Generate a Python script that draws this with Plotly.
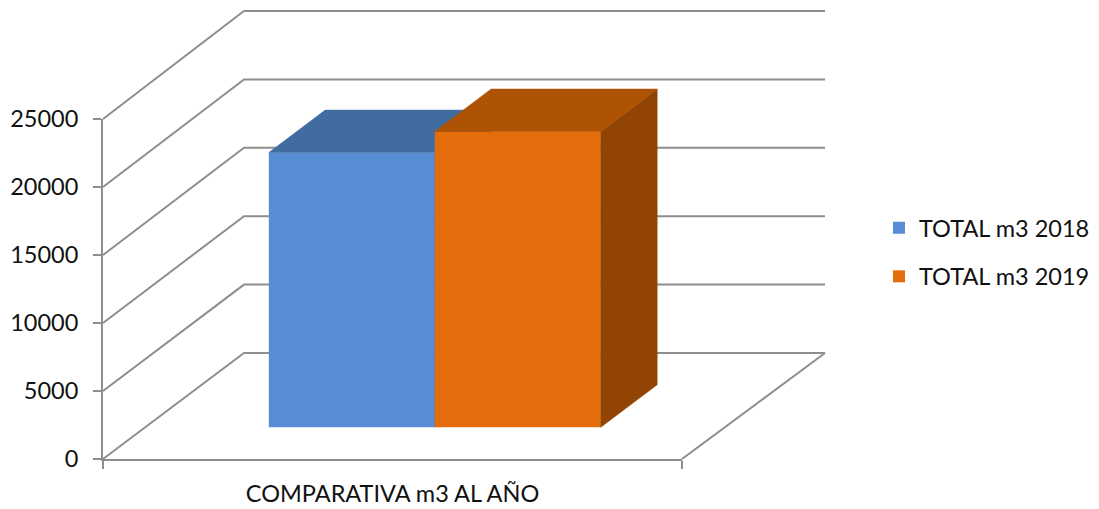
import plotly.graph_objects as go

series_names = ["TOTAL m3 2018", "TOTAL m3 2019"]
series_values = [20200, 21750]
category_label = "COMPARATIVA m3 AL AÑO"
y_ticks = [0, 5000, 10000, 15000, 20000, 25000]
front_colors = ["#588dd6", "#e46c0a"]
top_colors = ["#416ca2", "#ae5204"]
side_colors = ["#3b6396", "#914403"]
grid_color = "#8e8e8e"

W, H = 1099, 509
AX_L, AX_R, AX_T, AX_B = 103, 682, 119, 459   # front axes box in page pixels
DX = 141 / (AX_R - AX_L)
DY = 106 / (AX_B - AX_T) * 25000
BACK_SX = 581 / 579    # the back wall is very slightly larger than the front plane
BACK_SY = 342 / 340
BAR_W = 0.2867
D0, D1 = 0.3, 0.7
CENTERS = [0.5 - BAR_W / 2, 0.5 + BAR_W / 2]

xspan = AX_R - AX_L
yspan = (AX_B - AX_T) / 25000
full_x = [-AX_L / xspan, (W - AX_L) / xspan]
full_y = [-(H - AX_B) / yspan, AX_B / yspan]


def proj(x, y, d):
    return x + DX * d, y + DY * d


fig = go.Figure()

# visible axes: an empty helper trace keeps the front box alive
fig.add_trace(go.Scatter(x=[0, 1], y=[0, 25000], mode="none", showlegend=False,
                         hoverinfo="skip", xaxis="x", yaxis="y"))

# walls and floor
for v in y_ticks:
    pts = [proj(0, v, 0), proj(0, v * BACK_SY, 1), proj(BACK_SX, v * BACK_SY, 1)]
    fig.add_trace(go.Scatter(x=[p[0] for p in pts], y=[p[1] for p in pts], mode="lines",
                             line=dict(color=grid_color, width=2), showlegend=False,
                             hoverinfo="skip", xaxis="x2", yaxis="y2"))
pts = [proj(1, 0, 0), proj(BACK_SX, 0, 1)]
fig.add_trace(go.Scatter(x=[p[0] for p in pts], y=[p[1] for p in pts], mode="lines",
                         line=dict(color=grid_color, width=2), showlegend=False,
                         hoverinfo="skip", xaxis="x2", yaxis="y2"))

# bars: native front faces, projected top and side faces; each bar on its own layer
for i, (name, val) in enumerate(zip(series_names, series_values)):
    xa, ya = f"x{i + 3}", f"y{i + 3}"
    fig.add_trace(go.Bar(x=[CENTERS[i] + DX * D0], y=[val], base=[DY * D0], width=[BAR_W], name=name,
                         marker=dict(color=front_colors[i], line=dict(width=0)),
                         xaxis=xa, yaxis=ya, legendgroup=name))
    l, r = CENTERS[i] - BAR_W / 2, CENTERS[i] + BAR_W / 2
    top = [proj(l, val, D0), proj(r, val, D0), proj(r, val, D1), proj(l, val, D1), proj(l, val, D0)]
    side = [proj(r, 0, D0), proj(r, 0, D1), proj(r, val, D1), proj(r, val, D0), proj(r, 0, D0)]
    for pts, col in ((side, side_colors[i]), (top, top_colors[i])):
        fig.add_trace(go.Scatter(x=[p[0] for p in pts], y=[p[1] for p in pts], mode="lines",
                                 fill="toself", fillcolor=col, line=dict(color=col, width=0.5),
                                 showlegend=False, hoverinfo="skip", xaxis=xa, yaxis=ya))

font = dict(family="Lato, Carlito, Calibri, sans-serif", size=23.5, color="#111111")
tick_font = dict(font, size=23.5)
hidden = {}
for n in (2, 3, 4):
    hidden[f"xaxis{n}"] = dict(range=full_x, domain=[0, 1], visible=False, anchor=f"y{n}", fixedrange=True)
    hidden[f"yaxis{n}"] = dict(range=full_y, domain=[0, 1], visible=False, anchor=f"x{n}", fixedrange=True)

fig.update_layout(
    width=W, height=H, autosize=False,
    margin=dict(l=0, r=0, t=0, b=0, pad=0, autoexpand=False),
    paper_bgcolor="white", plot_bgcolor="rgba(0,0,0,0)",
    font=font, barmode="overlay",
    xaxis=dict(domain=[AX_L / W, AX_R / W], range=[0, 1], tickmode="array", tickvals=[0, 1],
               ticktext=["", ""], ticks="outside", ticklen=8, tickwidth=2, tickcolor=grid_color,
               showline=True, linecolor=grid_color, linewidth=2, showgrid=False, zeroline=False,
               title=dict(text=category_label, font=font, standoff=13), anchor="y", automargin=False),
    yaxis=dict(domain=[(H - AX_B) / H, (H - AX_T) / H], range=[0, 25000], tickmode="array",
               tickvals=y_ticks, ticktext=[str(v) for v in y_ticks], ticks="outside", ticklen=8,
               tickwidth=2, tickcolor=grid_color, showline=True, linecolor=grid_color, linewidth=2,
               showgrid=False, zeroline=False, tickfont=tick_font, anchor="x", automargin=False,
               ticklabelstandoff=10),
    legend=dict(x=879 / W, y=1 - 206 / H, xanchor="left",
                yanchor="top", font=font, tracegroupgap=15, bgcolor="rgba(0,0,0,0)"),
    showlegend=True,
    **hidden,
)
fig.write_html("out.html", post_script="document.body.style.margin='0';",
               config={"displayModeBar": False})
